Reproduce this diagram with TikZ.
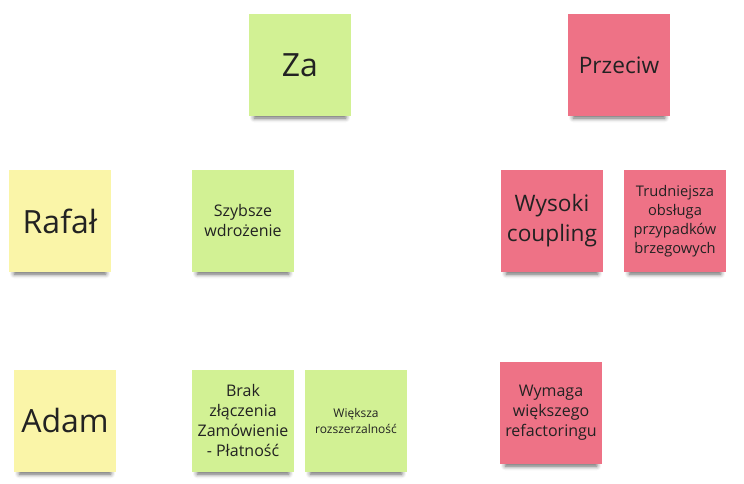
\documentclass[tikz,border=0pt]{standalone}
\usepackage{fontspec}
\setmainfont{Open Sans}
\usepackage{tikz}
\usetikzlibrary{positioning,shadows.blur}
\definecolor{progreen}{RGB}{210,241,148}
\definecolor{conpink}{RGB}{238,114,134}
\definecolor{nameyellow}{RGB}{250,245,168}
\definecolor{ink}{RGB}{34,34,34}
\tikzset{
  % Specifications for style of sticky notes:
  note/.style = {
    rectangle,
    minimum width=76.5pt,
    minimum height=76.5pt,
    inner sep=0pt,
    align=center,
    text=ink,
    blur shadow={shadow xshift=0pt, shadow yshift=-6pt,
      shadow scale=0.9, shadow blur radius=3.5pt, shadow opacity=60}
  },
  pronote/.style = {note, fill=progreen},
  connote/.style = {note, fill=conpink},
  namenote/.style = {note, fill=nameyellow},
  huge/.style = {font=\fontsize{24}{28}\selectfont},
  big/.style = {font=\fontsize{17}{22.5}\selectfont},
  mid/.style = {font=\fontsize{12}{15}\selectfont},
  small/.style = {font=\fontsize{11}{14.25}\selectfont},
  tiny/.style = {font=\fontsize{9}{12}\selectfont},
}

\begin{document}
\begin{tikzpicture}[x=0.75pt, y=-0.75pt]
    \useasboundingbox (0,0) rectangle (744,484);
    % Column headers
    \node[pronote, huge] (za)      at (300, 65) {Za};
    \node[connote, big]  (przeciw) at (619, 65) {Przeciw};
    % Row: Rafal
    \node[namenote, huge] (rafal)      at (60, 221)  {Rafał};
    \node[pronote, mid]   (szybsze)    at (243, 221) {Szybsze\\wdrożenie};
    \node[connote, big]   (wysoki)     at (552, 221) {Wysoki\\coupling};
    \node[connote, small] (trudniejsza) at (675, 221) {Trudniejsza\\obsługa\\przypadków\\brzegowych};
    % Row: Adam
    \node[namenote, huge] (adam)    at (65, 421)  {Adam};
    \node[pronote, mid]   (brak)    at (243, 421) {Brak\\złączenia\\Zamówienie\\- Płatność};
    \node[pronote, tiny]  (wieksza) at (356, 421) {Większa\\rozszerzalność};
    \node[connote, mid]   (wymaga)  at (551, 413) {Wymaga\\większego\\refactoringu};
\end{tikzpicture}
\end{document}
